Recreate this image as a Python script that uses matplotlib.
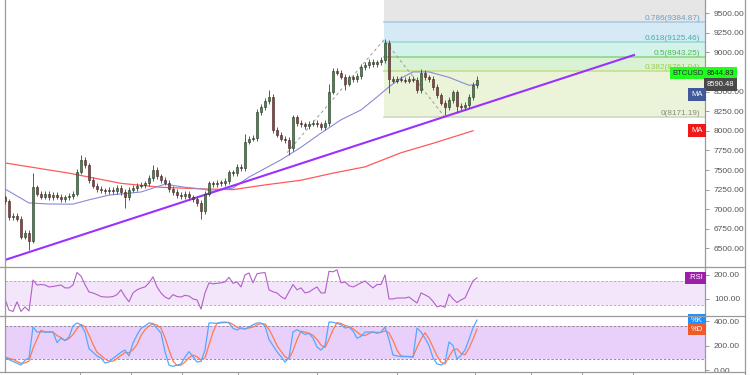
import matplotlib
matplotlib.use('Agg')
import matplotlib.pyplot as plt
import numpy as np
import pandas as pd
from matplotlib.lines import Line2D

# ---------------- data ----------------
closes = [7100, 6900, 6920, 6880, 6650, 6700, 6600, 7280, 7200, 7160,
          7200, 7150, 7180, 7160, 7130, 7150, 7170, 7200, 7480, 7630,
          7560, 7370, 7300, 7260, 7240, 7230, 7250, 7230, 7270, 7220,
          7150, 7250, 7270, 7300, 7310, 7330, 7400, 7500, 7420, 7370,
          7340, 7260, 7220, 7180, 7170, 7200, 7150, 7130, 7080, 6980,
          7200, 7330, 7320, 7340, 7330, 7360, 7470, 7460, 7540, 7520,
          7860, 7900, 7910, 8240, 8300, 8380, 8430, 8010, 7950, 7900,
          7880, 7780, 8170, 8100, 8080, 8060, 8090, 8100, 8080, 8050,
          8100, 8500, 8760, 8740, 8690, 8600, 8680, 8660, 8700, 8810,
          8840, 8880, 8850, 8870, 8900, 9120, 8660, 8640, 8660, 8650,
          8640, 8660, 8650, 8520, 8740, 8680, 8660, 8560, 8450, 8360,
          8300, 8390, 8490, 8320, 8300, 8330, 8430, 8580, 8644.83]
first_open = 7150
high_ext = {7: 7460, 19: 7690, 37: 7560, 60: 7960, 66: 8520, 81: 8600, 95: 9170, 104: 8790, 118: 8700}
low_ext = {6: 6480, 30: 7020, 49: 6880, 71: 7690, 85: 8520, 96: 8480, 110: 8200, 113: 8230}
default_wick = 35

blue_ma_x = [0, 6, 11, 17, 21, 26, 34, 40, 45, 49, 52, 57, 61, 69, 74, 79, 84, 89, 93, 96, 99, 102, 106, 111, 116, 118]
blue_ma_y = [7258, 7080, 7067, 7065, 7120, 7180, 7220, 7320, 7280, 7260, 7230, 7270, 7410, 7630, 7790, 7970, 8140, 8265, 8430, 8560, 8670, 8750, 8750, 8680, 8580, 8590.48]
red_ma_x = [0, 16, 29, 39, 49, 57, 65, 74, 82, 90, 99, 107, 117]
red_ma_y = [7590, 7460, 7330, 7280, 7260, 7250, 7310, 7370, 7460, 7540, 7720, 7840, 8000]

trend_x = [0, 157.25]
trend_y = [6354, 8965]

fib_diag_x = [70.5, 94.75, 110]
fib_diag_y = [7720, 9160, 8171.19]
fib_start = 94.75
fib_levels = [0, 0.382, 0.5, 0.618, 0.786, 1.0]
fib_values = [8171.19, 8761.04, 8943.25, 9125.46, 9384.87, 9715.29]

rsi = [100, 54, 48, 88, 48, 67, 50, 179, 158, 160,
       158, 150, 152, 155, 158, 146, 146, 158, 210, 195,
       160, 129, 125, 118, 110, 108, 108, 110, 118, 138,
       110, 88, 125, 138, 145, 150, 167, 192, 150, 125,
       108, 100, 118, 110, 108, 115, 112, 100, 96, 58,
       125, 167, 163, 165, 167, 171, 190, 165, 171, 150,
       200, 208, 167, 205, 208, 210, 138, 130, 125, 110,
       100, 130, 160, 138, 146, 125, 129, 140, 150, 125,
       125, 215, 213, 221, 167, 171, 155, 150, 158, 167,
       175, 160, 146, 160, 160, 200, 100, 100, 104, 104,
       104, 108, 95, 83, 125, 117, 108, 90, 67, 72,
       65, 120, 100, 85, 96, 104, 140, 175, 188]

stoch_k = [106, 85, 70, 55, 41, 80, 98, 351, 310, 312,
           310, 310, 310, 225, 260, 240, 270, 360, 384, 370,
           310, 175, 145, 115, 98, 57, 65, 95, 120, 145,
           163, 115, 220, 286, 340, 360, 384, 380, 340, 302,
           150, 40, 30, 40, 50, 106, 150, 110, 65, 70,
           163, 384, 384, 380, 390, 392, 384, 340, 327, 345,
           335, 350, 370, 384, 384, 360, 250, 200, 150, 110,
           65, 100, 310, 330, 310, 290, 300, 260, 188, 163,
           200, 392, 390, 380, 370, 343, 350, 320, 260, 275,
           310, 310, 310, 300, 310, 351, 250, 122, 115, 110,
           110, 110, 105, 343, 310, 260, 200, 100, 50, 41,
           60, 229, 200, 90, 120, 163, 250, 343, 408]

price_ticks = [6500, 6750, 7000, 7250, 7500, 7750, 8000, 8250, 8500, 8750, 9000, 9250, 9500]
hidden_price_labels = [8750]   # covered by the last-price tag in the reference
rsi_ticks = [100, 200]
rsi_band = [75, 175]
stoch_ticks = [0, 200, 400]
stoch_band = [90, 360]
date_ticks = [18.75, 31.5, 44.25, 58.25, 78, 98, 117.5, 131.5, 144.25, 157]

# ---------------- figure ----------------
W, H = 750, 375
fig = plt.figure(figsize=(7.5, 3.75), dpi=100)
fig.patch.set_facecolor('white')
FONT = 'Liberation Sans'

def axes_px(left, top, right, bottom):
    return fig.add_axes([left / W, 1 - bottom / H, (right - left) / W, (bottom - top) / H])

ax = axes_px(5, 0, 705, 266)
ax_rsi = axes_px(5, 267, 705, 316)
ax_st = axes_px(5, 316, 705, 372)

XMAX = 175
for a in (ax, ax_rsi, ax_st):
    a.set_xlim(0, XMAX)
    for s in ('top', 'bottom'):
        a.spines[s].set_visible(False)
    for s in ('left', 'right'):
        a.spines[s].set_color('#9a9a9a')
        a.spines[s].set_linewidth(0.9)
    a.yaxis.tick_right()
    a.tick_params(axis='y', direction='out', length=3, width=0.6, color='#888888',
                  labelsize=6, labelcolor='#555555', pad=3.5)
    a.set_xticks([])

def price_fmt(v, pos):
    return '' if v in hidden_price_labels else f'{v:.2f}'

# ---- main chart ----
ax.set_ylim(6277, 9666)
ax.set_yticks(price_ticks)
ax.yaxis.set_major_formatter(matplotlib.ticker.FuncFormatter(price_fmt))

# Fibonacci zones
zone_colors = ['#ebf4d8', '#d9f2d3', '#d3f2ea', '#d6eaf6', '#e6e6e6']
line_colors = ['#cfd8c2', '#c4e08e', '#8fd68a', '#9fd9d4', '#a8cde4']
text_colors = ['#8a8a80', '#9acd4a', '#4cbb4c', '#3fb0a8', '#6a9fc8']
for i in range(5):
    ax.fill_between([fib_start, XMAX], fib_values[i], fib_values[i + 1],
                    color=zone_colors[i], lw=0, zorder=0)
    ax.plot([fib_start, XMAX], [fib_values[i]] * 2, color=line_colors[i], lw=1.2, zorder=0.5)
    lvl = fib_levels[i]
    lvl_txt = '0' if lvl == 0 else f'{lvl:g}'
    ax.text(XMAX - 1.2, fib_values[i], f'{lvl_txt}({fib_values[i]:.2f})', ha='right', va='bottom',
            fontsize=5.9, color=text_colors[i], family=FONT, zorder=1)

# dashed fib diagonal
ax.plot(fib_diag_x, fib_diag_y, color='#9a9a9a', lw=0.7, ls=(0, (3, 3)), zorder=1)

# moving averages
ax.plot(red_ma_x, red_ma_y, color='#ff5a5a', lw=0.9, zorder=2)
ax.plot(blue_ma_x, blue_ma_y, color='#8a8ad6', lw=0.8, zorder=2)

# trend line
ax.plot(trend_x, trend_y, color='#9b30ff', lw=1.5, zorder=2.5)

# candles
n = len(closes)
xs = np.arange(n)
opens = [first_open] + closes[:-1]
for i in range(n):
    o, c = opens[i], closes[i]
    hi = high_ext.get(i, max(o, c) + default_wick)
    lo = low_ext.get(i, min(o, c) - default_wick)
    ax.vlines(xs[i], lo, hi, color='#5a5a5a', lw=0.7, zorder=3)
    up = c >= o
    body_lo = min(o, c)
    body_h = max(abs(c - o), 12)
    ax.bar(xs[i], body_h, bottom=body_lo, width=0.72,
           color='#2a9d2a' if up else '#c0302a', edgecolor='#2a2a2a', lw=0.4, zorder=4)

# right side labels
def tag(a, y, txt, fc, tc, ha, dx, dy, size=5.5, pad=0.25):
    a.annotate(txt, xy=(1.0, y), xycoords=('axes fraction', 'data'),
               xytext=(dx, dy), textcoords='offset points', ha=ha, va='center',
               fontsize=size, color=tc, family=FONT, annotation_clip=False, zorder=20,
               bbox=dict(boxstyle=f'square,pad={pad}', fc=fc, ec='none'))

last = closes[-1]
tag(ax, last, 'BTCUSD', '#1eff1e', '#333333', 'right', -0.8, 5.0, pad=0.35)
tag(ax, last, f'{last:.2f}', '#1eff1e', '#222222', 'left', 1.5, 5.0, pad=0.35)
tag(ax, blue_ma_y[-1], f'{blue_ma_y[-1]:.2f}', '#4a4a4a', 'white', 'left', 1.5, 0.0, pad=0.35)
tag(ax, blue_ma_y[-1], 'MA', '#3e5a9a', 'white', 'right', -1.5, -7.5, pad=0.4)
tag(ax, red_ma_y[-1], 'MA', '#f01818', 'white', 'right', -1.5, 0.0, pad=0.4)

# ---- RSI ----
ax_rsi.set_ylim(29, 233)
ax_rsi.set_yticks(rsi_ticks)
ax_rsi.yaxis.set_major_formatter(matplotlib.ticker.StrMethodFormatter('{x:.2f}'))
ax_rsi.axhspan(rsi_band[0], rsi_band[1], color='#f3e6fb', lw=0, zorder=0)
for v in rsi_band:
    ax_rsi.axhline(v, color='#aaaaaa', lw=0.6, ls=(0, (3, 2)), zorder=1)
ax_rsi.plot(xs, rsi, color='#b35fc9', lw=0.8, zorder=2)
tag(ax_rsi, rsi[-1], '.RSI', '#9b1fa8', 'white', 'right', -1.5, 0.0, pad=0.35)

# ---- Stochastic ----
ax_st.set_ylim(-16, 441)
ax_st.set_yticks(stoch_ticks)
ax_st.yaxis.set_major_formatter(matplotlib.ticker.StrMethodFormatter('{x:.2f}'))
ax_st.axhspan(stoch_band[0], stoch_band[1], color='#e8d0fa', lw=0, zorder=0)
for v in stoch_band:
    ax_st.axhline(v, color='#8a7a90', lw=0.6, ls=(0, (3, 2)), zorder=1)
stoch_d = pd.Series(stoch_k).rolling(3, min_periods=1).mean().to_numpy()
ax_st.plot(xs, stoch_d, color='#ff7a50', lw=0.9, zorder=2)
ax_st.plot(xs, stoch_k, color='#55a8ff', lw=0.9, zorder=3)
tag(ax_st, stoch_k[-1], '%K', '#1e90ff', 'white', 'right', -1.5, 0.0, pad=0.35)
tag(ax_st, stoch_d[-1], '%D', '#f05a28', 'white', 'right', -1.5, 0.0, pad=0.35)
ax_st.set_xticks(date_ticks)
ax_st.tick_params(axis='x', direction='out', length=3, width=0.6, color='#888888',
                  labelbottom=False)

for a in (ax, ax_rsi, ax_st):
    for lab in a.get_yticklabels():
        lab.set_fontfamily(FONT)

# panel separators / frame
def fline(x0, y0, x1, y1):
    fig.add_artist(Line2D([x0 / W, x1 / W], [1 - y0 / H, 1 - y1 / H], color='#9a9a9a', lw=0.9))

fline(0, 266.5, 745, 266.5)
fline(0, 316, 745, 316)
fline(0, 372, 745, 372)
fline(745, 0, 745, 375)

fig.savefig('out.png', dpi=100, facecolor='white')
